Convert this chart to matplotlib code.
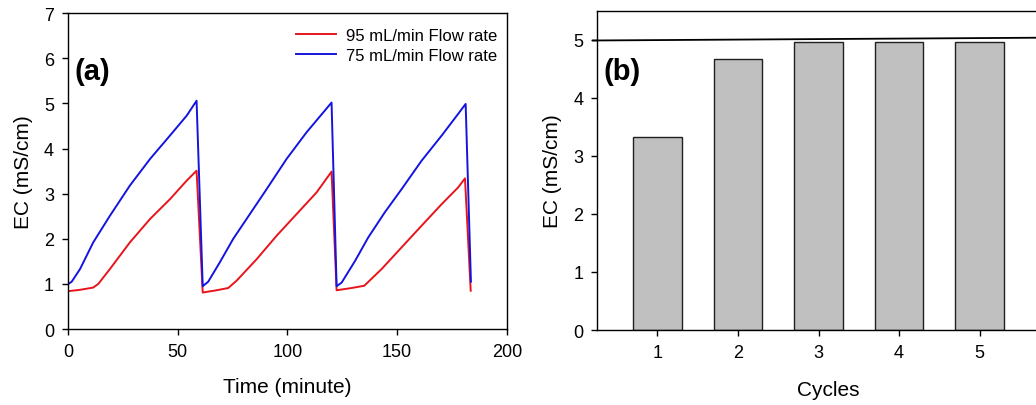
import numpy as np
import matplotlib
matplotlib.use("Agg")
import matplotlib.pyplot as plt

plt.rcParams['font.family'] = ['Liberation Sans', 'DejaVu Sans']

# EC time course for the two flow rates (minute, mS/cm)
t_95 = [0.15, 5.5, 11.5, 13.8, 19.1, 28.2, 37.4, 46.5, 54.1, 58.6,
        61.4, 67.7, 73.0, 76.8, 86.0, 95.1, 104.2, 113.3, 120.1,
        122.4, 129.2, 135.0, 142.9, 152.0, 161.1, 170.3, 177.8, 180.9, 183.5]
ec_95 = [0.84, 0.87, 0.92, 1.0, 1.33, 1.92, 2.44, 2.88, 3.29, 3.51,
         0.81, 0.86, 0.91, 1.07, 1.55, 2.07, 2.55, 3.03, 3.49,
         0.86, 0.91, 0.96, 1.33, 1.81, 2.29, 2.77, 3.14, 3.34, 0.85]

t_75 = [0.15, 1.7, 5.5, 11.5, 19.1, 28.2, 37.4, 46.5, 54.1, 58.6,
        61.4, 63.9, 69.2, 75.3, 82.9, 90.5, 99.6, 108.7, 116.3, 120.1,
        122.4, 124.7, 130.8, 136.8, 144.4, 152.0, 161.1, 170.3, 177.8, 181.2, 183.6]
ec_75 = [1.0, 1.05, 1.33, 1.92, 2.51, 3.18, 3.77, 4.29, 4.73, 5.06,
         0.95, 1.05, 1.48, 2.0, 2.55, 3.1, 3.77, 4.36, 4.8, 5.02,
         0.95, 1.03, 1.51, 2.03, 2.59, 3.1, 3.73, 4.29, 4.77, 4.99, 1.05]

# peak EC per cycle
cycles = [1, 2, 3, 4, 5]
peak_ec = [3.33, 4.67, 4.96, 4.96, 4.97]
ref_x = [0.2, 6.0]
ref_y = [4.99, 5.04]

fig = plt.figure(figsize=(10.36, 4.06), dpi=100)

ax1 = fig.add_axes([0.0656, 0.187, 0.4237, 0.778])
ax1.plot(t_95, ec_95, color='#e8141c', lw=1.4, label='95 mL/min Flow rate')
ax1.plot(t_75, ec_75, color='#1414e0', lw=1.4, label='75 mL/min Flow rate')
ax1.set_xlim(0, 200)
ax1.set_ylim(0, 7)
ax1.set_xticks([0, 50, 100, 150, 200])
ax1.set_yticks(range(8))
ax1.set_xlabel('Time (minute)', fontsize=15, labelpad=12)
ax1.set_ylabel('EC (mS/cm)', fontsize=15, labelpad=8)
ax1.text(0.016, 0.816, '(a)', transform=ax1.transAxes, fontsize=21,
         fontweight='bold', va='center')
ax1.legend(loc='upper right', frameon=False, fontsize=12, handlelength=2.35,
           handletextpad=0.6, borderaxespad=0.2, labelspacing=0.3,
           bbox_to_anchor=(1.0, 0.985))

ax2 = fig.add_axes([0.5763, 0.1847, 0.447, 0.786])
ax2.bar(cycles, peak_ec, width=0.6, color='#c0c0c0', edgecolor='#202020',
        linewidth=1.0)
ax2.plot(ref_x, ref_y, color='black', lw=1.3, clip_on=False)
ax2.set_xlim(0.25, 6.0)
ax2.set_ylim(0, 5.5)
ax2.set_xticks(cycles)
ax2.set_yticks(range(6))
ax2.set_xlabel('Cycles', fontsize=15, labelpad=14)
ax2.set_ylabel('EC (mS/cm)', fontsize=15, labelpad=8)
ax2.text(0.013, 0.812, '(b)', transform=ax2.transAxes, fontsize=21,
         fontweight='bold', va='center')

for ax in (ax1, ax2):
    ax.tick_params(direction='out', length=4, width=1, labelsize=13, pad=6)
    for sp in ax.spines.values():
        sp.set_linewidth(1.0)

fig.savefig('out.png', dpi=100)
